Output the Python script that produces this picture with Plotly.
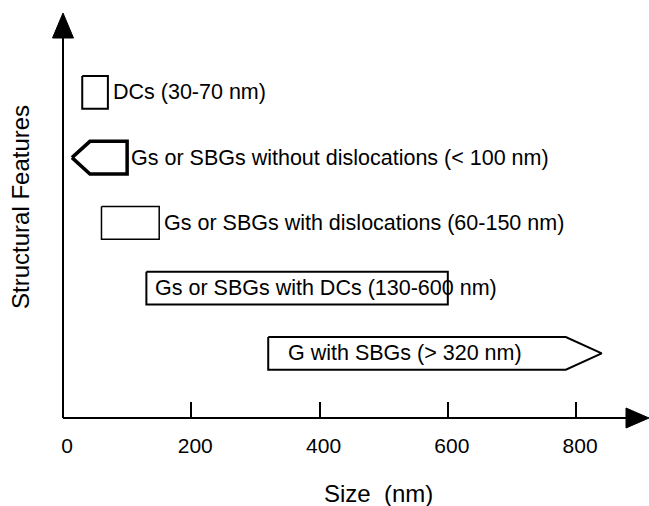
import plotly.graph_objects as go

# ---- data ----
labels = [
    "DCs (30-70 nm)",
    "Gs or SBGs without dislocations (< 100 nm)",
    "Gs or SBGs with dislocations (60-150 nm)",
    "Gs or SBGs with DCs (130-600 nm)",
    "G with SBGs (> 320 nm)",
]
size_low = [30, None, 60, 130, 320]      # nm, None = open-ended
size_high = [70, 100, 150, 600, None]    # nm, None = open-ended
x_tick_vals = [0, 200, 400, 600, 800]
x_tick_text = ["0", "200", "400", "600", "800"]

# ---- style ----
FONT = "Liberation Sans, Arial, sans-serif"
HALF_H = 0.25
LEFT_ARROW = dict(tip=14, shoulder=42)      # drawing extent for "< x" bars
RIGHT_ARROW = dict(shoulder=784, tip=840)   # drawing extent for "> x" bars
line_widths = [2, 3.5, 1.5, 2, 2]
label_at = ["end", "end", "end", "start", "start"]
label_shift = [3, 2, 3, 7, 18]

fig = go.Figure()
for i, (lab, lo, hi) in enumerate(zip(labels, size_low, size_high)):
    y0, y1 = i - HALF_H, i + HALF_H
    if lo is None:
        xs = [LEFT_ARROW["tip"], LEFT_ARROW["shoulder"], hi, hi, LEFT_ARROW["shoulder"], LEFT_ARROW["tip"]]
        ys = [i, y0, y0, y1, y1, i]
    elif hi is None:
        xs = [lo, RIGHT_ARROW["shoulder"], RIGHT_ARROW["tip"], RIGHT_ARROW["shoulder"], lo, lo]
        ys = [y0, y0, i, y1, y1, y0]
    else:
        xs = [lo, hi, hi, lo, lo]
        ys = [y0, y0, y1, y1, y0]
    fig.add_trace(go.Scatter(
        x=xs, y=ys, mode="lines", fill="toself", fillcolor="white",
        line=dict(color="black", width=line_widths[i]), hoverinfo="skip",
        showlegend=False,
    ))
    ax = hi if label_at[i] == "end" else lo
    fig.add_annotation(
        x=ax, y=i, xref="x", yref="y", text=lab, showarrow=False,
        xanchor="left", yanchor="middle", xshift=label_shift[i],
        font=dict(family=FONT, size=21.5, color="black"),
    )

# axis lines with arrowheads (paper/pixel shapes)
fig.add_shape(type="line", xref="paper", yref="paper", x0=0, x1=0.97, y0=0, y1=0,
              line=dict(color="black", width=2))
fig.add_shape(type="line", xref="paper", yref="paper", x0=0, x1=0, y0=0, y1=0.95,
              line=dict(color="black", width=2))
fig.add_shape(type="path", xref="paper", yref="paper", xsizemode="pixel", ysizemode="pixel",
              xanchor=1, yanchor=0, path="M -23 -10 L 0 0 L -23 10 Z",
              fillcolor="black", line=dict(color="black", width=1))
fig.add_shape(type="path", xref="paper", yref="paper", xsizemode="pixel", ysizemode="pixel",
              xanchor=0, yanchor=1, path="M -10.5 -25 L 0 0 L 10.5 -25 Z",
              fillcolor="black", line=dict(color="black", width=1))

# axis titles
fig.add_annotation(x=0.539, y=0, xref="paper", yref="paper", yshift=-75,
                   text="Size\u00a0\u00a0(nm)", showarrow=False, xanchor="center", yanchor="middle",
                   font=dict(family=FONT, size=24, color="black"))
fig.add_annotation(x=0, y=0.521, xref="paper", yref="paper", xshift=-42,
                   text="Structural Features", showarrow=False, textangle=-90,
                   xanchor="center", yanchor="middle",
                   font=dict(family=FONT, size=24, color="black"))

fig.update_xaxes(range=[0, 913.7], tickvals=x_tick_vals, ticktext=x_tick_text,
                 ticks="inside", ticklen=16, tickwidth=2, tickcolor="black",
                 showgrid=False, zeroline=False, showline=False,
                 ticklabelshift=4, ticklabelstandoff=13,
                 tickfont=dict(family=FONT, size=21, color="black"))
fig.update_yaxes(range=[4.99, -1.217], showticklabels=False, ticks="",
                 showgrid=False, zeroline=False, showline=False)

fig.update_layout(
    width=649, height=506,
    margin=dict(l=63, r=0, t=13, b=88),
    plot_bgcolor="white", paper_bgcolor="white",
    font=dict(family=FONT, color="black"),
)
fig.write_html("out.html", config={"displayModeBar": False},
               post_script="document.body.style.margin='0';document.body.style.overflow='hidden';")
